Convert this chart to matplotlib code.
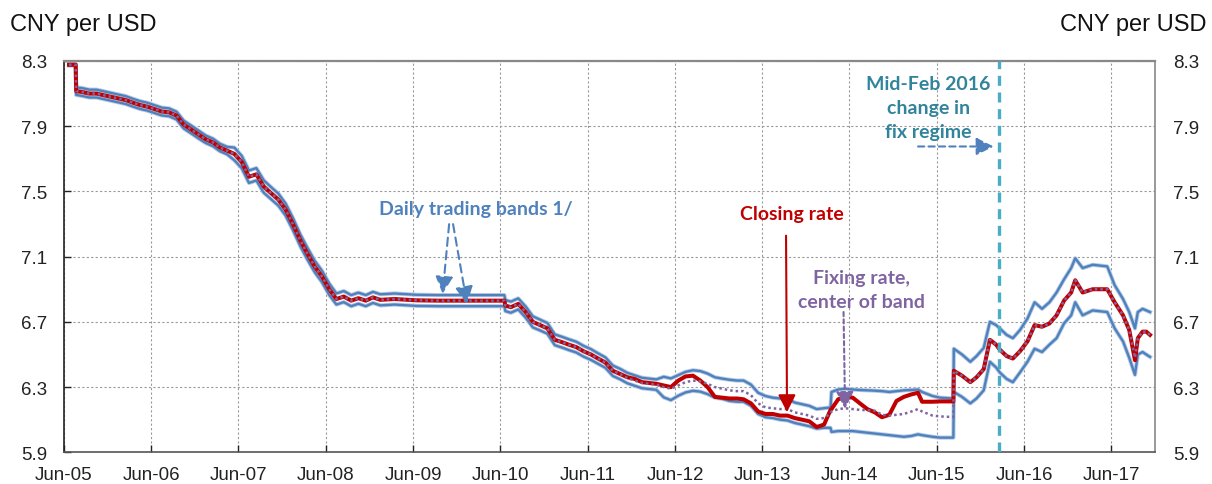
import matplotlib
matplotlib.use("Agg")
import matplotlib.pyplot as plt
import matplotlib.patheffects as pe
import numpy as np
import datetime as dt

# ---------------- data ----------------
dates = [
    "2005-06-22", "2005-07-20", "2005-07-22", "2005-08-15", "2005-09-15", "2005-10-15", "2005-11-15", "2005-12-15",
    "2006-01-15", "2006-02-15", "2006-03-15", "2006-04-15", "2006-05-15", "2006-06-15", "2006-07-15", "2006-08-15",
    "2006-09-15", "2006-10-15", "2006-11-15", "2006-12-15",
    "2007-01-15", "2007-02-15", "2007-03-15", "2007-04-15", "2007-05-15", "2007-06-15", "2007-07-15", "2007-08-15",
    "2007-09-15", "2007-10-15", "2007-11-15", "2007-12-15",
    "2008-01-15", "2008-02-15", "2008-03-15", "2008-04-15", "2008-05-15", "2008-06-15", "2008-07-15", "2008-08-15",
    "2008-09-15", "2008-10-15", "2008-11-15", "2008-12-15",
    "2009-01-15", "2009-03-15", "2009-06-15", "2009-09-15", "2009-12-15", "2010-03-15", "2010-06-18", "2010-06-22",
    "2010-07-15", "2010-08-15", "2010-09-15", "2010-10-15", "2010-11-15", "2010-12-15",
    "2011-01-15", "2011-02-15", "2011-03-15", "2011-04-15", "2011-05-15", "2011-06-15", "2011-07-15", "2011-08-15",
    "2011-09-15", "2011-10-15", "2011-11-15", "2011-12-15",
    "2012-01-15", "2012-02-15", "2012-03-15", "2012-04-15", "2012-05-15", "2012-06-15", "2012-07-15", "2012-08-15",
    "2012-09-15", "2012-10-15", "2012-11-15", "2012-12-15",
    "2013-01-15", "2013-02-15", "2013-03-15", "2013-04-15", "2013-05-15", "2013-06-15", "2013-07-15", "2013-08-15",
    "2013-09-15", "2013-10-15", "2013-11-15", "2013-12-15",
    "2014-01-15", "2014-02-15", "2014-03-14", "2014-03-18", "2014-04-15", "2014-05-15", "2014-06-15", "2014-07-15",
    "2014-08-15", "2014-09-15", "2014-10-15", "2014-11-15", "2014-12-15",
    "2015-01-15", "2015-02-15", "2015-03-15", "2015-04-01", "2015-05-15", "2015-06-15", "2015-07-15", "2015-08-10",
    "2015-08-12", "2015-09-15", "2015-10-20", "2015-11-15", "2015-12-15",
    "2016-01-10", "2016-02-05", "2016-02-20", "2016-03-20", "2016-04-15", "2016-05-15", "2016-06-15", "2016-07-15",
    "2016-08-15", "2016-09-15", "2016-10-15", "2016-11-15", "2016-12-15",
    "2017-01-01", "2017-02-01", "2017-03-15", "2017-04-15", "2017-05-15", "2017-06-15", "2017-07-20", "2017-08-15",
    "2017-09-08", "2017-09-20", "2017-10-10", "2017-10-25", "2017-11-10",
]

closing = [
    8.277, 8.277, 8.115, 8.110, 8.100, 8.100, 8.090, 8.080,
    8.070, 8.060, 8.045, 8.030, 8.020, 8.005, 7.990, 7.985,
    7.965, 7.910, 7.880, 7.850,
    7.820, 7.800, 7.770, 7.750, 7.730, 7.680, 7.590, 7.605,
    7.530, 7.490, 7.450, 7.390,
    7.300, 7.200, 7.120, 7.040, 6.980, 6.900, 6.840, 6.855,
    6.830, 6.845, 6.830, 6.850,
    6.835, 6.840, 6.832, 6.830, 6.830, 6.830, 6.830, 6.800,
    6.790, 6.810, 6.760, 6.700, 6.680, 6.660,
    6.590, 6.575, 6.560, 6.545, 6.520, 6.500, 6.475, 6.450,
    6.400, 6.380, 6.360, 6.350,
    6.330, 6.325, 6.320, 6.310, 6.300, 6.340, 6.365, 6.370,
    6.340, 6.300, 6.240, 6.235,
    6.230, 6.230, 6.225, 6.200, 6.150, 6.135, 6.135, 6.125,
    6.125, 6.110, 6.100, 6.090,
    6.055, 6.070, 6.160, 6.165, 6.225, 6.240, 6.235, 6.200,
    6.165, 6.145, 6.115, 6.130, 6.215,
    6.240, 6.255, 6.265, 6.210, 6.210, 6.212, 6.212, 6.212,
    6.400, 6.370, 6.330, 6.360, 6.410,
    6.590, 6.560, 6.530, 6.490, 6.475, 6.520, 6.580, 6.680,
    6.670, 6.690, 6.740, 6.830, 6.880,
    6.955, 6.880, 6.900, 6.900, 6.900, 6.820, 6.740, 6.650,
    6.465, 6.600, 6.640, 6.640, 6.620,
]

fixing = [
    8.277, 8.277, 8.115, 8.110, 8.100, 8.100, 8.090, 8.080,
    8.070, 8.060, 8.045, 8.030, 8.020, 8.005, 7.990, 7.985,
    7.965, 7.910, 7.880, 7.850,
    7.820, 7.800, 7.770, 7.750, 7.730, 7.680, 7.590, 7.605,
    7.530, 7.490, 7.450, 7.390,
    7.300, 7.200, 7.120, 7.040, 6.980, 6.900, 6.840, 6.855,
    6.830, 6.845, 6.830, 6.850,
    6.835, 6.840, 6.832, 6.830, 6.830, 6.830, 6.830, 6.800,
    6.790, 6.810, 6.760, 6.700, 6.680, 6.660,
    6.590, 6.575, 6.560, 6.545, 6.520, 6.500, 6.475, 6.450,
    6.400, 6.380, 6.355, 6.340,
    6.325, 6.320, 6.315, 6.300, 6.290, 6.310, 6.330, 6.340,
    6.335, 6.320, 6.300, 6.290,
    6.280, 6.275, 6.275, 6.250, 6.200, 6.175, 6.170, 6.165,
    6.165, 6.145, 6.135, 6.125,
    6.105, 6.110, 6.140, 6.150, 6.165, 6.170, 6.165, 6.160,
    6.158, 6.155, 6.130, 6.125, 6.130,
    6.135, 6.150, 6.165, 6.150, 6.125, 6.120, 6.118, 6.116,
    6.400, 6.370, 6.330, 6.360, 6.410,
    6.590, 6.560, 6.530, 6.490, 6.475, 6.520, 6.580, 6.680,
    6.670, 6.690, 6.740, 6.830, 6.880,
    6.955, 6.880, 6.900, 6.900, 6.900, 6.820, 6.740, 6.650,
    6.480, 6.600, 6.640, 6.640, 6.620,
]

band_upper = [
    8.282, 8.282, 8.138, 8.134, 8.124, 8.124, 8.114, 8.104,
    8.094, 8.084, 8.069, 8.054, 8.044, 8.029, 8.014, 8.009,
    7.989, 7.934, 7.904, 7.874,
    7.843, 7.823, 7.793, 7.773, 7.769, 7.718, 7.628, 7.643,
    7.568, 7.527, 7.487, 7.427,
    7.337, 7.236, 7.156, 7.075, 7.015, 6.935, 6.874, 6.889,
    6.864, 6.879, 6.864, 6.884,
    6.869, 6.874, 6.866, 6.864, 6.864, 6.864, 6.864, 6.834,
    6.824, 6.844, 6.794, 6.734, 6.713, 6.693,
    6.623, 6.608, 6.593, 6.578, 6.553, 6.533, 6.507, 6.482,
    6.432, 6.412, 6.387, 6.372,
    6.357, 6.352, 6.347, 6.363, 6.353, 6.373, 6.393, 6.403,
    6.398, 6.383, 6.360, 6.352,
    6.345, 6.340, 6.340, 6.315, 6.265, 6.245, 6.235, 6.230,
    6.230, 6.205, 6.195, 6.185,
    6.165, 6.170, 6.175, 6.270, 6.285, 6.290, 6.285, 6.282,
    6.280, 6.278, 6.275, 6.270, 6.275,
    6.280, 6.282, 6.285, 6.270, 6.245, 6.235, 6.232, 6.230,
    6.535, 6.500, 6.455, 6.490, 6.540,
    6.700, 6.680, 6.660, 6.620, 6.600, 6.650, 6.720, 6.820,
    6.780, 6.820, 6.880, 6.960, 7.030,
    7.090, 7.030, 7.050, 7.045, 7.040, 6.925, 6.840, 6.760,
    6.660, 6.760, 6.780, 6.770, 6.760,
]

band_lower = [
    8.272, 8.272, 8.092, 8.086, 8.076, 8.076, 8.066, 8.056,
    8.046, 8.036, 8.021, 8.006, 7.996, 7.981, 7.966, 7.961,
    7.941, 7.886, 7.856, 7.826,
    7.797, 7.777, 7.747, 7.727, 7.691, 7.642, 7.552, 7.567,
    7.492, 7.453, 7.413, 7.353,
    7.263, 7.164, 7.084, 7.005, 6.945, 6.865, 6.806, 6.821,
    6.796, 6.811, 6.796, 6.816,
    6.801, 6.806, 6.798, 6.796, 6.796, 6.796, 6.796, 6.766,
    6.756, 6.776, 6.726, 6.666, 6.647, 6.627,
    6.557, 6.542, 6.527, 6.512, 6.487, 6.467, 6.443, 6.418,
    6.368, 6.348, 6.323, 6.308,
    6.293, 6.288, 6.283, 6.237, 6.220, 6.247, 6.267, 6.277,
    6.272, 6.257, 6.235, 6.228,
    6.215, 6.210, 6.210, 6.185, 6.135, 6.115, 6.110, 6.100,
    6.095, 6.080, 6.070, 6.060,
    6.045, 6.050, 6.050, 6.025, 6.030, 6.030, 6.030, 6.025,
    6.020, 6.015, 6.010, 6.005, 6.000,
    5.995, 6.000, 6.010, 6.005, 5.995, 5.990, 5.990, 5.990,
    6.270, 6.240, 6.200, 6.230, 6.280,
    6.455, 6.420, 6.390, 6.350, 6.330, 6.390, 6.455, 6.535,
    6.515, 6.560, 6.600, 6.690, 6.740,
    6.820, 6.740, 6.770, 6.765, 6.760, 6.660, 6.580, 6.480,
    6.375, 6.500, 6.515, 6.500, 6.485,
]

year_ticks = ["2005-06-01", "2006-06-01", "2007-06-01", "2008-06-01", "2009-06-01", "2010-06-01", "2011-06-01",
              "2012-06-01", "2013-06-01", "2014-06-01", "2015-06-01", "2016-06-01", "2017-06-01"]
year_labels = ["Jun-05", "Jun-06", "Jun-07", "Jun-08", "Jun-09", "Jun-10", "Jun-11",
               "Jun-12", "Jun-13", "Jun-14", "Jun-15", "Jun-16", "Jun-17"]
y_ticks = [5.9, 6.3, 6.7, 7.1, 7.5, 7.9, 8.3]
regime_change = "2016-02-16"
x_limits = ("2005-06-01", "2017-12-01")

# ---------------- drawing ----------------
def D(s):
    return dt.datetime.strptime(s, "%Y-%m-%d")

x = [D(s) for s in dates]

BLUE = "#4F81BD"
RED = "#C00000"
PURPLE = "#8064A2"
TEAL = "#31849B"
CYAN = "#4BACC6"

plt.rcParams["font.family"] = ["Liberation Sans", "DejaVu Sans"]

fig = plt.figure(figsize=(12.12, 4.85), dpi=100)
ax = fig.add_axes([0.0528, 0.0654, 0.9002, 0.8068])

halo = [pe.Stroke(linewidth=3.0, foreground="#B7CCE6"), pe.Normal()]
ax.plot(x, band_upper, color=BLUE, lw=1.7, zorder=3, solid_joinstyle="round", path_effects=halo)
ax.plot(x, band_lower, color=BLUE, lw=1.7, zorder=3, solid_joinstyle="round", path_effects=halo)
ax.plot(x, closing, color=RED, lw=2.9, zorder=4, solid_joinstyle="round")
ax.plot(x, fixing, color=PURPLE, lw=1.8, ls=(0, (1, 1.2)), zorder=5)

ax.axvline(D(regime_change), color=CYAN, lw=2.4, ls=(0, (3, 2)), zorder=6)

ax.set_xlim(D(x_limits[0]), D(x_limits[1]))
ax.set_ylim(y_ticks[0], y_ticks[-1])
ax.set_yticks(y_ticks)
ax.set_yticklabels([f"{v:.1f}" for v in y_ticks])
ax.set_xticks([D(s) for s in year_ticks])
ax.set_xticklabels(year_labels)

ax.grid(True, color="#9a9a9a", lw=0.8, ls=(0, (2, 2)), zorder=0)
ax.tick_params(axis="both", direction="in", length=5, width=1.0, colors="#222222", labelsize=13.5)
ax.tick_params(axis="y", pad=12)
ax.tick_params(axis="x", pad=10)

ax.spines["left"].set_color("#222222")
ax.spines["left"].set_linewidth(1.2)
ax.spines["bottom"].set_color("#555555")
ax.spines["bottom"].set_linewidth(1.2)
ax.spines["top"].set_color("#888888")
ax.spines["top"].set_linewidth(1.6)
ax.spines["right"].set_color("#888888")
ax.spines["right"].set_linewidth(1.2)

ax2 = ax.twinx()
ax2.set_ylim(y_ticks[0], y_ticks[-1])
ax2.set_yticks(y_ticks)
ax2.set_yticklabels([f"{v:.1f}" for v in y_ticks])
ax2.tick_params(axis="y", direction="in", length=0, labelsize=13.5, pad=13, colors="#222222")
for s in ax2.spines.values():
    s.set_visible(False)

fig.text(10 / 1212, 1 - 31.5 / 485, "CNY per USD", fontsize=17, ha="left", va="baseline", color="#111111")
fig.text(1207 / 1212, 1 - 31.5 / 485, "CNY per USD", fontsize=17, ha="right", va="baseline", color="#111111")

AF = ["Lato", "DejaVu Sans"]

def note(txt, xy, color, size=14):
    ax.text(xy[0], xy[1], txt, transform=ax.transAxes, ha="center", va="center", color=color,
            fontsize=size, fontweight="bold", family=AF, linespacing=1.5, zorder=8)

def arrow(p0, p1, color, ls="-", lw=1.5):
    ax.annotate("", xy=p1, xytext=p0, xycoords="axes fraction", textcoords="axes fraction",
                arrowprops=dict(arrowstyle="-|>,head_length=0.75,head_width=0.38", color=color, lw=lw,
                                linestyle=ls, shrinkA=0, shrinkB=0, mutation_scale=14), zorder=8)

note("Daily trading bands 1/", (0.3776, 0.622), BLUE)
arrow((0.353, 0.583), (0.347, 0.405), BLUE, ls=(0, (4, 2.5)))
arrow((0.3566, 0.583), (0.3694, 0.379), BLUE, ls=(0, (4, 2.5)))

note("Closing rate", (0.667, 0.609), RED)
arrow((0.6618, 0.5536), (0.6627, 0.1026), RED, lw=1.5)

note("Fixing rate,\ncenter of band", (0.731, 0.417), PURPLE)
arrow((0.7145, 0.3585), (0.7159, 0.1107), PURPLE, ls=(0, (2, 1.5)))

note("Mid-Feb 2016\nchange in\nfix regime", (0.792, 0.882), TEAL)
arrow((0.7828, 0.7815), (0.852, 0.7815), BLUE, ls=(0, (3, 2)))

fig.savefig("out.png", dpi=100)
